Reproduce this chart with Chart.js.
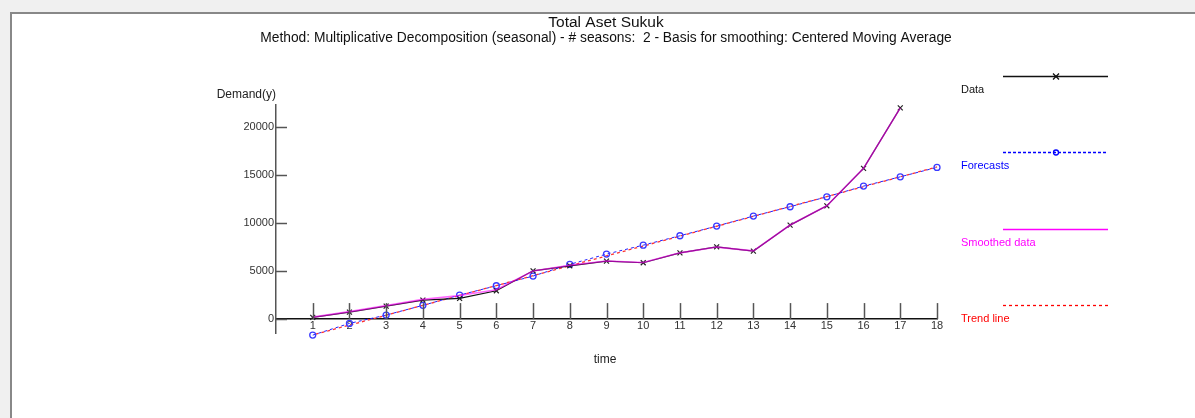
<!DOCTYPE html>
<html>
<head>
<meta charset="utf-8">
<script src="https://cdn.jsdelivr.net/npm/chart.js@4/dist/chart.umd.min.js"></script>
<style>
  html, body { margin: 0; padding: 0; background: #f0f0f0; }
  .frame {
    position: absolute; left: 10px; top: 12px; right: 0; bottom: 0;
    background: #fff; border-left: 2px solid #888; border-top: 2px solid #888;
  }
  #wrap { position: absolute; left: 0; top: 0; width: 1195px; height: 418px; }
</style>
</head>
<body>
<div class="frame"></div>
<div id="wrap"><canvas id="chart"></canvas></div>
<script>
// values
const timeLabels = [1, 2, 3, 4, 5, 6, 7, 8, 9, 10, 11, 12, 13, 14, 15, 16, 17, 18];
const yTicks = [0, 5000, 10000, 15000, 20000];
const dataValues = [180, 720, 1350, 1980, 2150, 2950, 5030, 5550, 6040, 5870, 6900, 7530, 7080, 9790, 11800, 15700, 22000];
const forecastValues = [-1670, -450, 420, 1430, 2500, 3470, 4480, 5700, 6770, 7700, 8680, 9690, 10730, 11700, 12740, 13850, 14820, 15800];
const smoothedValues = [200, 780, 1400, 2050, 2450, 3050, 5000, 5600, 6050, 5900, 6900, 7500, 7100, 9800, 11800, 15700, 22000];
const trendValues = [-1650, -630, 400, 1430, 2460, 3490, 4520, 5550, 6580, 7610, 8640, 9670, 10700, 11730, 12760, 13790, 14820, 15850];
const seriesNames = ['Data', 'Forecasts', 'Smoothed data', 'Trend line'];

const titleText = 'Total Aset Sukuk';
const subtitleText = 'Method: Multiplicative Decomposition (seasonal) - # seasons:  2 - Basis for smoothing: Centered Moving Average';

const FONT = '"Liberation Sans", Arial, sans-serif';

const toPoints = vals => vals.map((v, i) => ({ x: timeLabels[i], y: v }));

// titles, tick marks, axis captions and the legend on the right
const extras = {
  id: 'extras',
  afterDraw(chart) {
    const ctx = chart.ctx;
    const x = chart.scales.x;
    const y = chart.scales.y;
    const y0 = y.getPixelForValue(0);
    ctx.save();

    ctx.fillStyle = '#111';
    ctx.textAlign = 'center';
    ctx.textBaseline = 'middle';
    ctx.font = '15.5px ' + FONT;
    ctx.fillText(titleText, 606, 23);
    ctx.font = '13.8px ' + FONT;
    ctx.fillText(subtitleText, 606, 38);

    ctx.strokeStyle = '#555';
    ctx.lineWidth = 1.5;
    timeLabels.forEach(t => {
      const px = Math.round(x.getPixelForValue(t)) + 0.5;
      ctx.beginPath();
      ctx.moveTo(px, y0 - 16);
      ctx.lineTo(px, y0);
      ctx.stroke();
    });
    const ax = x.getPixelForValue(0);
    yTicks.forEach(v => {
      const py = Math.round(y.getPixelForValue(v)) + 0.5;
      ctx.beginPath();
      ctx.moveTo(ax, py);
      ctx.lineTo(ax + 11, py);
      ctx.stroke();
    });

    ctx.fillStyle = '#222';
    ctx.font = '12px ' + FONT;
    ctx.textAlign = 'right';
    ctx.fillText('Demand(y)', ax, 95);
    ctx.textAlign = 'center';
    ctx.fillText('time', 605, 360);

    // legend
    const colors = ['#111111', '#0000ff', '#ff00ff', '#ff0000'];
    const dashes = [[], [3, 2], [], [3, 3]];
    const rows = [76, 152, 229, 305];
    ctx.font = '11px ' + FONT;
    ctx.textAlign = 'left';
    for (let i = 0; i < seriesNames.length; i++) {
      const ly = rows[i] + 0.5;
      ctx.setLineDash(dashes[i]);
      ctx.lineWidth = 1.3;
      ctx.strokeStyle = colors[i];
      ctx.beginPath();
      ctx.moveTo(1003, ly);
      ctx.lineTo(1108, ly);
      ctx.stroke();
      ctx.setLineDash([]);
      if (i === 0) {
        ctx.beginPath();
        ctx.moveTo(1053, ly - 3); ctx.lineTo(1059, ly + 3);
        ctx.moveTo(1059, ly - 3); ctx.lineTo(1053, ly + 3);
        ctx.stroke();
      } else if (i === 1) {
        ctx.beginPath();
        ctx.arc(1056, ly, 2.5, 0, Math.PI * 2);
        ctx.stroke();
      }
      ctx.fillStyle = colors[i];
      ctx.fillText(seriesNames[i], 961, rows[i] + 14);
    }
    ctx.restore();
  }
};

// first dataset ends up on top
new Chart(document.getElementById('chart'), {
  type: 'line',
  data: {
    datasets: [
      {
        label: seriesNames[2],
        data: toPoints(smoothedValues),
        borderColor: 'rgba(255,0,255,0.6)',
        borderWidth: 1.6,
        pointRadius: 0,
        clip: false
      },
      {
        label: seriesNames[0],
        data: toPoints(dataValues),
        borderColor: '#111',
        borderWidth: 1.2,
        pointStyle: 'crossRot',
        pointRadius: 3.5,
        pointBorderColor: '#222',
        pointBorderWidth: 1.2,
        clip: false
      },
      {
        label: seriesNames[1],
        data: toPoints(forecastValues),
        borderColor: '#2020ff',
        borderWidth: 1,
        borderDash: [3, 3],
        pointStyle: 'circle',
        pointRadius: 3,
        pointBorderColor: '#3a3aff',
        pointBackgroundColor: 'rgba(255,255,255,0)',
        pointBorderWidth: 1.3,
        clip: false
      },
      {
        label: seriesNames[3],
        data: toPoints(trendValues),
        borderColor: '#ff3030',
        borderWidth: 1.3,
        borderDash: [3, 3],
        borderDashOffset: 3,
        pointRadius: 0,
        clip: false
      }
    ]
  },
  options: {
    responsive: true,
    maintainAspectRatio: false,
    animation: false,
    layout: { padding: { left: 226, right: 258, top: 105, bottom: 85 } },
    plugins: {
      legend: { display: false },
      tooltip: { enabled: false }
    },
    scales: {
      x: {
        type: 'linear',
        min: 0,
        max: 18,
        position: { y: 0 },
        grid: { display: false, drawTicks: false },
        border: { color: '#111', width: 1.5 },
        afterBuildTicks: scale => { scale.ticks = timeLabels.map(v => ({ value: v })); },
        ticks: { color: '#333', font: { family: FONT, size: 11 }, padding: 0, maxRotation: 0, autoSkip: false }
      },
      y: {
        min: -1450,
        max: 22300,
        grid: { display: false, drawTicks: false },
        border: { color: '#555', width: 1.5 },
        afterBuildTicks: scale => { scale.ticks = yTicks.map(v => ({ value: v })); },
        afterFit: scale => { scale.width = 50; },
        ticks: { color: '#333', font: { family: FONT, size: 11 }, padding: 2, callback: v => String(v) }
      }
    }
  },
  plugins: [extras]
});
</script>
</body>
</html>
